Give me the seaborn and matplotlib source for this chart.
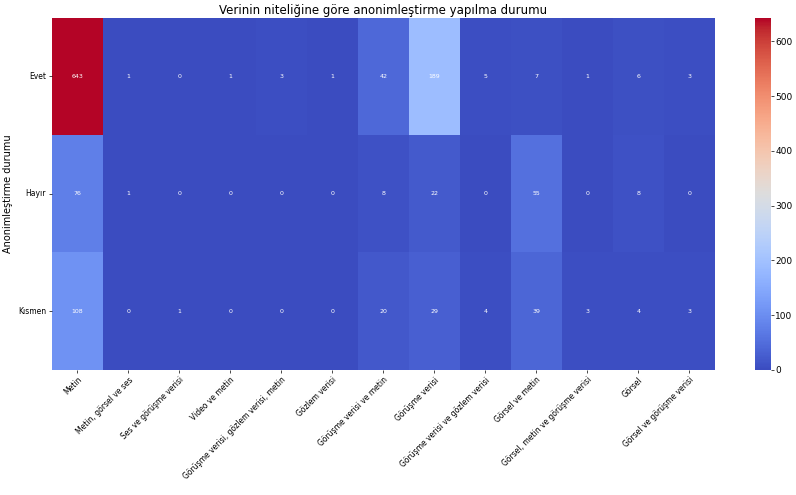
import matplotlib
matplotlib.use("Agg")
import matplotlib.pyplot as plt
import seaborn as sns
import numpy as np
import pandas as pd

rows = ["Evet", "Hayır", "Kısmen"]
columns = [
    "Metin",
    "Metin, görsel ve ses",
    "Ses ve görüşme verisi",
    "Video ve metin",
    "Görüşme verisi, gözlem verisi, metin",
    "Gözlem verisi",
    "Görüşme verisi ve metin",
    "Görüşme verisi",
    "Görüşme verisi ve gözlem verisi",
    "Görsel ve metin",
    "Görsel, metin ve görüşme verisi",
    "Görsel",
    "Görsel ve görüşme verisi",
]
evet = [643, 1, 0, 1, 3, 1, 42, 189, 5, 7, 1, 6, 3]
hayir = [76, 1, 0, 0, 0, 0, 8, 22, 0, 55, 0, 8, 0]
kismen = [108, 0, 1, 0, 0, 0, 20, 29, 4, 39, 3, 4, 3]

df = pd.DataFrame([evet, hayir, kismen], index=rows, columns=columns)

fig = plt.figure(figsize=(7.96, 4.95), dpi=100)
ax = fig.add_axes([0.065, 0.253, 0.833, 0.711])
cax = fig.add_axes([0.948, 0.253, 0.02, 0.711])

sns.heatmap(df, ax=ax, cbar_ax=cax, cmap="coolwarm", annot=True, fmt="d",
            annot_kws={"size": 4.5, "color": "white"})

ax.set_title("Verinin niteliğine göre anonimleştirme yapılma durumu", fontsize=8.5, pad=3)
ax.set_ylabel("Anonimleştirme durumu", fontsize=7, labelpad=4)
ax.set_xlabel("")
ax.set_xticklabels(columns, rotation=45, ha="right", rotation_mode="anchor", fontsize=5.5)
ax.set_yticklabels(rows, rotation=0, fontsize=5.5)
ax.tick_params(axis="both", length=2, width=0.5, pad=2)
cax.tick_params(labelsize=6.5, length=2, width=0.5, pad=1.5)

fig.savefig("out.png", dpi=100)
